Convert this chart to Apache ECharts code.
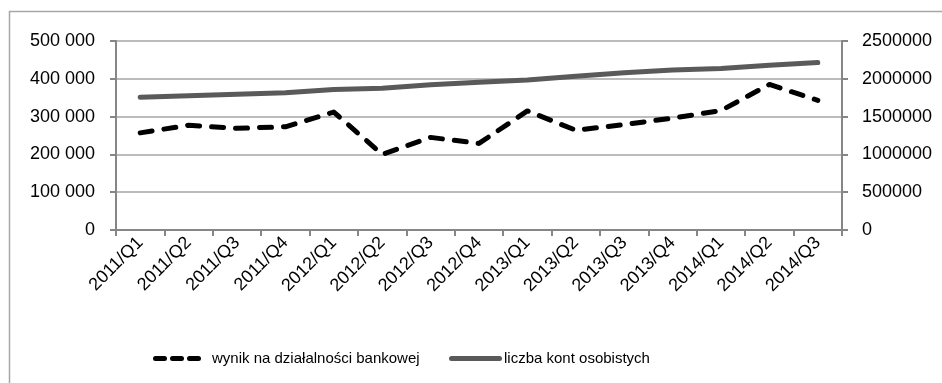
<!DOCTYPE html>
<html>
<head>
<meta charset="utf-8">
<script src="https://cdn.jsdelivr.net/npm/echarts@6/dist/echarts.min.js"></script>
<style>
html,body{margin:0;padding:0;background:#fff;}
#chart{width:942px;height:383px;}
</style>
</head>
<body>
<div id="chart"></div>
<script>
var categories = ['2011/Q1','2011/Q2','2011/Q3','2011/Q4','2012/Q1','2012/Q2','2012/Q3','2012/Q4','2013/Q1','2013/Q2','2013/Q3','2013/Q4','2014/Q1','2014/Q2','2014/Q3'];
var wynikName = 'wynik na działalności bankowej';
var kontaName = 'liczba kont osobistych';
var wynik = [257000, 277000, 269000, 273000, 312000, 200000, 245000, 229000, 315000, 264000, 279000, 296000, 316000, 385000, 343000];
var konta = [1755000, 1775000, 1795000, 1815000, 1860000, 1875000, 1920000, 1955000, 1985000, 2035000, 2080000, 2115000, 2135000, 2180000, 2215000];
var leftTicks = {min: 0, max: 500000, interval: 100000};
var rightTicks = {min: 0, max: 2500000, interval: 500000};

var FONT = "'Liberation Sans', Arial, sans-serif";
var chart = echarts.init(document.getElementById('chart'), null, {renderer: 'canvas'});
function fmtSpace(v){
  return String(v).replace(/\B(?=(\d{3})+(?!\d))/g, ' ');
}
var dashIcon = 'path://M2.5,0 h9 a2.5,2.5 0 0 1 0,5 h-9 a2.5,2.5 0 0 1 0,-5 z M19.5,0 h9 a2.5,2.5 0 0 1 0,5 h-9 a2.5,2.5 0 0 1 0,-5 z M36.5,0 h9 a2.5,2.5 0 0 1 0,5 h-9 a2.5,2.5 0 0 1 0,-5 z';
var solidIcon = 'path://M2.5,0 h48 a2.5,2.5 0 0 1 0,5 h-48 a2.5,2.5 0 0 1 0,-5 z';
chart.setOption({
  animation: false,
  backgroundColor: '#ffffff',
  graphic: [{
    type: 'rect', shape: {x: 9.5, y: 11.5, width: 1000, height: 1000},
    style: {fill: 'none', stroke: '#a6a6a6', lineWidth: 1.5}, silent: true, z: -1
  }],
  grid: {left: 116, right: 100, top: 41, bottom: 153, containLabel: false},
  legend: [{
    data: [{name: wynikName, icon: dashIcon}], left: 148, top: 346, itemWidth: 48, itemHeight: 5, itemGap: 10,
    textStyle: {fontFamily: FONT, fontSize: 15, color: '#000', padding: [0,0,0,6]}
  }, {
    data: [{name: kontaName, icon: solidIcon}], left: 444, top: 346, itemWidth: 53, itemHeight: 5, itemGap: 3,
    textStyle: {fontFamily: FONT, fontSize: 15, color: '#000', padding: [0,0,0,-3]}
  }],
  xAxis: {
    type: 'category', data: categories, boundaryGap: true,
    axisLine: {show: true, lineStyle: {color: '#868686', width: 2}},
    axisTick: {show: true, length: 6, lineStyle: {color: '#868686', width: 2}},
    axisLabel: {rotate: 45, fontFamily: FONT, fontSize: 18, color: '#000', margin: 10, interval: 0},
    splitLine: {show: false}
  },
  yAxis: [{
    type: 'value', position: 'left', min: leftTicks.min, max: leftTicks.max, interval: leftTicks.interval,
    axisLine: {show: true, lineStyle: {color: '#868686', width: 2}},
    axisTick: {show: true, length: 6, lineStyle: {color: '#868686', width: 2}},
    axisLabel: {fontFamily: FONT, fontSize: 18, color: '#000', margin: 21, formatter: fmtSpace},
    splitLine: {show: true, lineStyle: {color: '#a6a6a6', width: 1.5}}
  }, {
    type: 'value', position: 'right', min: rightTicks.min, max: rightTicks.max, interval: rightTicks.interval,
    axisLine: {show: true, lineStyle: {color: '#868686', width: 2}},
    axisTick: {show: true, length: 6, lineStyle: {color: '#868686', width: 2}},
    axisLabel: {fontFamily: FONT, fontSize: 18, color: '#000', margin: 20, formatter: function(v){ return String(v); }},
    splitLine: {show: false}
  }],
  series: [{
    name: wynikName, type: 'line', yAxisIndex: 0, data: wynik,
    symbol: 'none', showSymbol: false,
    lineStyle: {color: '#000', width: 5, type: [12, 12], cap: 'round', join: 'round'},
    itemStyle: {color: '#000'}, z: 3
  }, {
    name: kontaName, type: 'line', yAxisIndex: 1, data: konta,
    symbol: 'none', showSymbol: false,
    lineStyle: {color: '#5a5a5a', width: 5, type: 'solid', cap: 'round', join: 'round'},
    itemStyle: {color: '#5a5a5a'}, z: 2
  }]
});
</script>
</body>
</html>
